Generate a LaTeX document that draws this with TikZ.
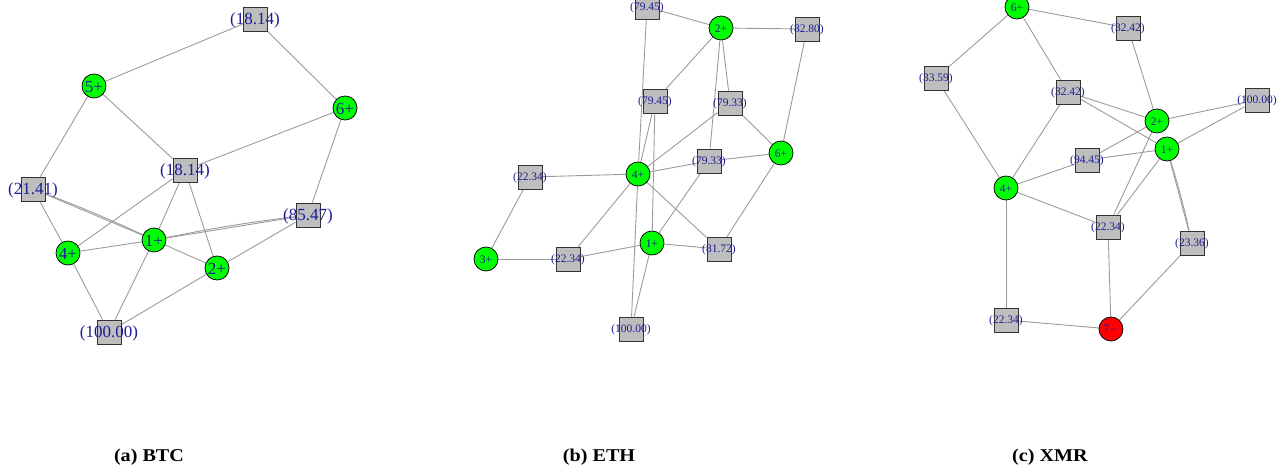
\documentclass[tikz,border=0pt]{standalone}
\usepackage{fontspec}
\setmainfont{Liberation Serif}
\newfontfamily\capfont{Liberation Serif}[FakeStretch=1.12]
\usetikzlibrary{backgrounds}
\definecolor{vgreen}{RGB}{0,255,0}
\definecolor{vred}{RGB}{255,0,0}
\definecolor{vgrey}{RGB}{190,190,190}
\definecolor{vlabel}{RGB}{28,28,150}
\definecolor{vedge}{RGB}{155,155,155}
\tikzset{
  x=1pt, y=-1pt,
  lblbig/.style={text=vlabel, font=\fontsize{17}{17}\selectfont, inner sep=0pt, yshift=-1pt},
  lblsmall/.style={text=vlabel, font=\fontsize{11.5}{11.5}\selectfont, inner sep=0pt, yshift=-0.5pt},
  posv/.style={circle, draw=black, line width=0.75pt, fill=vgreen, minimum size=24pt, inner sep=0pt},
  negv/.style={circle, draw=black, line width=0.75pt, fill=vred, minimum size=24pt, inner sep=0pt},
  sqv/.style={rectangle, draw=black!80, line width=0.85pt, fill=vgrey, minimum size=24pt, inner sep=0pt},
  lnk/.style={draw=vedge, line width=0.9pt},
  captext/.style={font=\capfont\bfseries\fontsize{18}{18}\selectfont, inner sep=0pt},
}
\newcommand{\vtx}[5]{\node[#1, label={[#2]center:#5}] (#3) at #4 {};}
\begin{document}
\begin{tikzpicture}
\useasboundingbox (0,0) rectangle (1285,472);

% ---------------- BTC ----------------
\vtx{sqv}{lblbig}{bA}{(255,19)}{(18.14)}
\vtx{posv}{lblbig}{b5}{(94,86)}{5+}
\vtx{posv}{lblbig}{b6}{(345,108)}{6+}
\vtx{sqv}{lblbig}{bB}{(185,170)}{(18.14)}
\vtx{sqv}{lblbig}{bC}{(33,189)}{(21.41)}
\vtx{sqv}{lblbig}{bD}{(308,215)}{(85.47)}
\vtx{posv}{lblbig}{b1}{(154,240)}{1+}
\vtx{posv}{lblbig}{b4}{(68,253)}{4+}
\vtx{posv}{lblbig}{b2}{(217,268)}{2+}
\vtx{sqv}{lblbig}{bE}{(109,332)}{(100.00)}

\begin{scope}[on background layer]
\draw[lnk] (bA) -- (b5);
\draw[lnk] (bA) -- (b6);
\draw[lnk] (b5) -- (bB);
\draw[lnk] (b5) -- (bC);
\draw[lnk] (b6) -- (bB);
\draw[lnk] (b6) -- (bD);
\draw[lnk] (bB) -- (b4);
\draw[lnk] (bB) -- (b1);
\draw[lnk] (bB) -- (b2);
\draw[lnk] (bC) -- (b1);
\draw[lnk] (bC) to[bend left=2] (b1);
\draw[lnk] (bC) -- (b4);
\draw[lnk] (bD) -- (b1);
\draw[lnk] (bD) to[bend right=2] (b1);
\draw[lnk] (bD) -- (b2);
\draw[lnk] (b1) -- (b4);
\draw[lnk] (b1) -- (b2);
\draw[lnk] (b1) -- (bE);
\draw[lnk] (b4) -- (bE);
\draw[lnk] (b2) -- (bE);
\end{scope}

% ---------------- ETH ----------------
\vtx{sqv}{lblsmall}{eA}{(647,7)}{(79.45)}
\vtx{posv}{lblsmall}{e2}{(721,28)}{2+}
\vtx{sqv}{lblsmall}{eB}{(807,29)}{(82.80)}
\vtx{sqv}{lblsmall}{eC}{(655,101)}{(79.45)}
\vtx{sqv}{lblsmall}{eD}{(730,103)}{(79.33)}
\vtx{posv}{lblsmall}{e6}{(781,153)}{6+}
\vtx{sqv}{lblsmall}{eE}{(709,161)}{(79.33)}
\vtx{posv}{lblsmall}{e4}{(638,174)}{4+}
\vtx{sqv}{lblsmall}{eF}{(530,177)}{(22.34)}
\vtx{posv}{lblsmall}{e1}{(652,243)}{1+}
\vtx{sqv}{lblsmall}{eG}{(719,249)}{(81.72)}
\vtx{posv}{lblsmall}{e3}{(486,259)}{3+}
\vtx{sqv}{lblsmall}{eH}{(568,259)}{(22.34)}
\vtx{sqv}{lblsmall}{eI}{(631,329)}{(100.00)}

\begin{scope}[on background layer]
\draw[lnk] (eA) -- (e2);
\draw[lnk] (eA) -- (e4);
\draw[lnk] (e2) -- (eB);
\draw[lnk] (e2) -- (eC);
\draw[lnk] (e2) -- (eD);
\draw[lnk] (e2) -- (eE);
\draw[lnk] (eB) -- (e6);
\draw[lnk] (eC) -- (e4);
\draw[lnk] (eC) -- (e1);
\draw[lnk] (eD) -- (e4);
\draw[lnk] (eD) -- (e6);
\draw[lnk] (eE) -- (e4);
\draw[lnk] (eE) -- (e6);
\draw[lnk] (eE) -- (e1);
\draw[lnk] (e4) -- (eF);
\draw[lnk] (e4) -- (eH);
\draw[lnk] (e4) -- (eG);
\draw[lnk] (e4) -- (eI);
\draw[lnk] (eF) -- (e3);
\draw[lnk] (e3) -- (eH);
\draw[lnk] (eH) -- (e1);
\draw[lnk] (e1) -- (eG);
\draw[lnk] (e1) -- (eI);
\draw[lnk] (eG) -- (e6);
\end{scope}

% ---------------- XMR ----------------
\vtx{posv}{lblsmall}{x6}{(1017,7)}{6+}
\vtx{sqv}{lblsmall}{xA}{(1128,28)}{(32.42)}
\vtx{sqv}{lblsmall}{xB}{(936,78)}{(33.59)}
\vtx{sqv}{lblsmall}{xC}{(1068,92)}{(32.42)}
\vtx{sqv}{lblsmall}{xD}{(1257,100)}{(100.00)}
\vtx{posv}{lblsmall}{x2}{(1157,121)}{2+}
\vtx{posv}{lblsmall}{x1}{(1167,149)}{1+}
\vtx{sqv}{lblsmall}{xE}{(1087,160)}{(94.45)}
\vtx{posv}{lblsmall}{x4}{(1006,188)}{4+}
\vtx{sqv}{lblsmall}{xF}{(1108,227)}{(22.34)}
\vtx{sqv}{lblsmall}{xG}{(1192,243)}{(23.36)}
\vtx{sqv}{lblsmall}{xH}{(1006,320)}{(22.34)}
\vtx{negv}{lblsmall}{x7}{(1111,329)}{7$-$}

\begin{scope}[on background layer]
\draw[lnk] (x6) -- (xA);
\draw[lnk] (x6) -- (xB);
\draw[lnk] (x6) -- (xC);
\draw[lnk] (xA) -- (x2);
\draw[lnk] (xB) -- (x4);
\draw[lnk] (xC) -- (x4);
\draw[lnk] (xC) -- (x2);
\draw[lnk] (xC) -- (x1);
\draw[lnk] (xD) -- (x2);
\draw[lnk] (xD) -- (x1);
\draw[lnk] (x2) -- (xE);
\draw[lnk] (x2) -- (xF);
\draw[lnk] (x1) -- (xE);
\draw[lnk] (x1) -- (xF);
\draw[lnk] (x1) -- (xG);
\draw[lnk] (x1) to[bend left=2] (xG);
\draw[lnk] (x4) -- (xE);
\draw[lnk] (x4) -- (xF);
\draw[lnk] (x4) -- (xH);
\draw[lnk] (xF) -- (x7);
\draw[lnk] (xG) -- (x7);
\draw[lnk] (xH) -- (x7);
\end{scope}

% ---------------- captions ----------------
\node[captext] (capa) at (149,457) {(a) BTC};
\node[captext] (capb) at (599,457) {(b) ETH};
\node[captext] (capc) at (1050,457) {(c) XMR};
\end{tikzpicture}
\end{document}
